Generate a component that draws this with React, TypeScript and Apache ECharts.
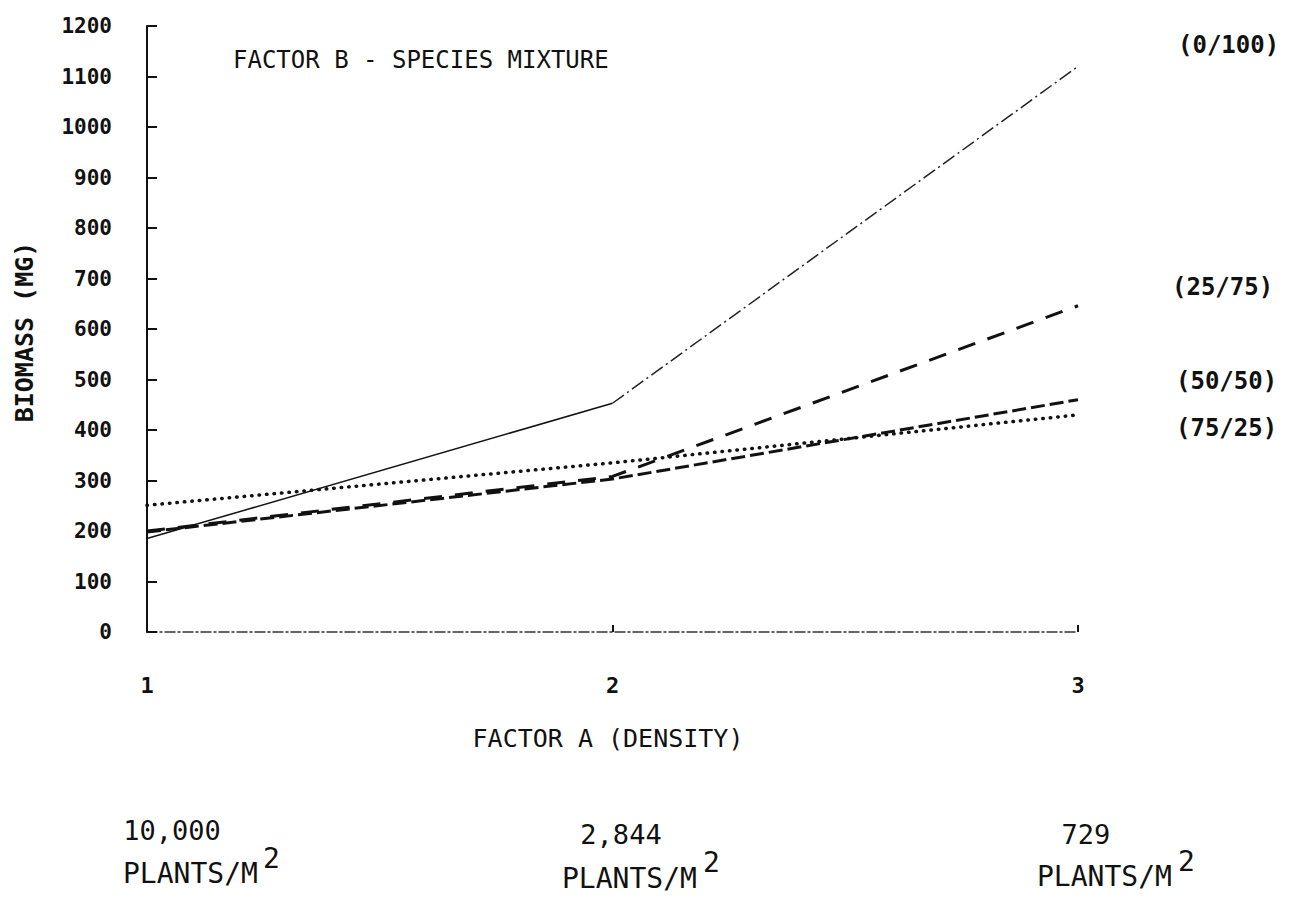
import React, { useEffect, useRef } from "react";
import * as echarts from "echarts";

const xValues = [1, 2, 3];
const xTickLabels = ["1", "2", "3"];
const densityCounts = ["10,000", "2,844", "729"];
const mix0_100 = [185, 453, 1120];
const mix25_75 = [200, 308, 646];
const mix50_50 = [198, 303, 460];
const mix75_25 = [251, 335, 430];
const seriesNames = ["(0/100)", "(25/75)", "(50/50)", "(75/25)"];

const FONT = "DejaVu Sans Mono";

export default function App() {
  const ref = useRef<HTMLDivElement>(null);
  useEffect(() => {
    if (!ref.current) return;
    const chart = echarts.init(ref.current, null, { renderer: "svg" });
    const pts = (arr: number[]) => xValues.map((x, i) => [x, arr[i]]);
    const seg1 = xValues.map((x, i) => [x, i <= 1 ? mix0_100[i] : null]);
    const seg2 = xValues.map((x, i) => [x, i >= 1 ? mix0_100[i] : null]);
    const base = {
      type: "line",
      symbol: "none",
      silent: true,
    };
    const txt = (text: string, x: number, y: number, size: number, weight: string, align = "left") => ({
      type: "text",
      x,
      y,
      style: {
        text,
        font: `${weight} ${size}px "${FONT}"`,
        fill: "#111",
        textAlign: align,
        textVerticalAlign: "middle",
      },
    });
    chart.setOption({
      animation: false,
      backgroundColor: "#fff",
      grid: { left: 147, right: 236, top: 26, bottom: 266, outerBoundsMode: "none", containLabel: false },
      xAxis: {
        type: "value",
        min: 1,
        max: 3,
        interval: 1,
        axisLine: { lineStyle: { color: "#333", width: 1.5, type: [10, 3, 2, 3] } },
        axisTick: { inside: true, length: 7, lineStyle: { color: "#111", width: 2 } },
        splitLine: { show: false },
        axisLabel: {
          margin: 42,
          color: "#111",
          fontFamily: FONT,
          fontSize: 22,
          fontWeight: "bold",
          formatter: (v: number) => xTickLabels[xValues.indexOf(v)] ?? "",
        },
      },
      yAxis: {
        type: "value",
        min: 0,
        max: 1200,
        interval: 100,
        axisLine: { show: true, lineStyle: { color: "#111", width: 2 } },
        axisTick: { show: true, inside: true, length: 10, lineStyle: { color: "#111", width: 2 } },
        splitLine: { show: false },
        axisLabel: {
          margin: 35,
          color: "#111",
          fontFamily: FONT,
          fontSize: 21,
          fontWeight: "bold",
          formatter: (v: number) => String(v),
        },
      },
      series: [
        { ...base, name: seriesNames[0], data: seg1, lineStyle: { color: "#111", width: 1.5, type: "solid" } },
        { ...base, name: seriesNames[0] + "b", data: seg2, lineStyle: { color: "#222", width: 1.5, type: [14, 4, 2, 4] } },
        { ...base, name: seriesNames[1], data: pts(mix25_75), lineStyle: { color: "#111", width: 3, type: [18, 13] } },
        { ...base, name: seriesNames[2], data: pts(mix50_50), lineStyle: { color: "#111", width: 3, type: [14, 5] } },
        { ...base, name: seriesNames[3], data: pts(mix75_25), lineStyle: { color: "#111", width: 3.5, type: [0.5, 7], cap: "round" } },
      ],
      graphic: [
        {
          type: "text",
          x: 24,
          y: 332,
          rotation: Math.PI / 2,
          style: {
            text: "BIOMASS (MG)",
            font: `bold 25px "${FONT}"`,
            fill: "#111",
            textAlign: "center",
            textVerticalAlign: "middle",
          },
        },
        txt("FACTOR B - SPECIES MIXTURE", 233, 60, 24, "normal"),
        txt(seriesNames[0], 1178, 45, 24, "bold"),
        txt(seriesNames[1], 1172, 287, 24, "bold"),
        txt(seriesNames[2], 1176, 381, 24, "bold"),
        txt(seriesNames[3], 1176, 428, 24, "bold"),
        txt("FACTOR A (DENSITY)", 608, 738, 25, "normal", "center"),
        txt(densityCounts[0], 172, 830, 27, "normal", "center"),
        txt("PLANTS/M", 123, 873, 28, "normal"),
        txt("2", 263, 858, 28, "normal"),
        txt(densityCounts[1], 621, 834, 27, "normal", "center"),
        txt("PLANTS/M", 562, 878, 28, "normal"),
        txt("2", 703, 862, 28, "normal"),
        txt(densityCounts[2], 1086, 834, 27, "normal", "center"),
        txt("PLANTS/M", 1037, 876, 28, "normal"),
        txt("2", 1178, 861, 28, "normal"),
      ],
    });
    return () => chart.dispose();
  }, []);
  return <div ref={ref} style={{ position: "fixed", left: 0, top: 0, width: 1314, height: 898 }} />;
}
